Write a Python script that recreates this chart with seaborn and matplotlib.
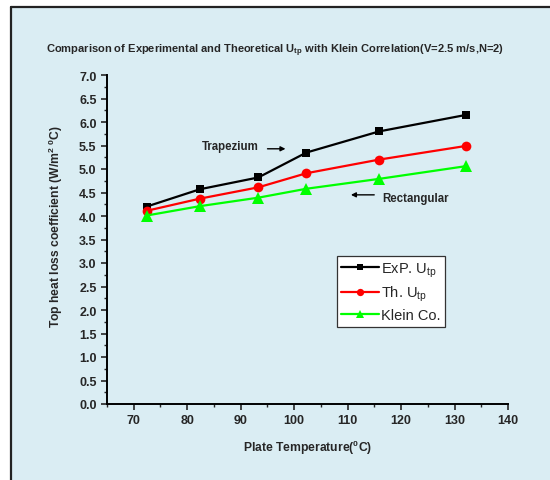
import matplotlib
matplotlib.use("Agg")
import matplotlib.pyplot as plt
from matplotlib.patches import Rectangle
from matplotlib.lines import Line2D
from matplotlib.ticker import MultipleLocator
import pandas as pd
import seaborn as sns

# Plate temperatures (deg C) and top heat loss coefficients (W/m2 C)
plate_temp = [72.4, 82.4, 93.3, 102.3, 115.9, 132.1]
exp_utp = [4.20, 4.57, 4.82, 5.35, 5.80, 6.15]
th_utp = [4.11, 4.37, 4.61, 4.91, 5.20, 5.49]
klein = [4.01, 4.21, 4.39, 4.58, 4.79, 5.06]

series_names = ["ExP. U$_{tp}$", "Th. U$_{tp}$", "Klein Co."]
x_ticks = [70, 80, 90, 100, 110, 120, 130, 140]
y_ticks = [0.0, 0.5, 1.0, 1.5, 2.0, 2.5, 3.0, 3.5, 4.0, 4.5, 5.0, 5.5, 6.0, 6.5, 7.0]

df = pd.DataFrame({
    "T": plate_temp * 3,
    "U": exp_utp + th_utp + klein,
    "series": [series_names[0]] * 6 + [series_names[1]] * 6 + [series_names[2]] * 6,
})

sns.set_style("ticks")
plt.rcParams["font.family"] = ["Liberation Sans", "DejaVu Sans"]
plt.rcParams["mathtext.default"] = "regular"

bg = "#DAEDF3"
fig = plt.figure(figsize=(5.5, 4.81), dpi=100, facecolor="white")

# Panel background with a dark frame on the left and top
fig.patches.append(Rectangle((11 / 550, 0), 1.0, 1 - 8 / 481, transform=fig.transFigure,
                             facecolor=bg, edgecolor="none", zorder=-10))
fig.lines.append(Line2D([11 / 550, 11 / 550], [0, 1 - 8 / 481], transform=fig.transFigure,
                        color="#222222", lw=1.6, zorder=-9))
fig.lines.append(Line2D([11 / 550, 1.0], [1 - 8 / 481, 1 - 8 / 481], transform=fig.transFigure,
                        color="#222222", lw=1.6, zorder=-9))

ax = fig.add_axes([107 / 550, (481 - 405) / 481, (508 - 107) / 550, (405 - 76) / 481])
ax.set_facecolor("none")
ax.set_zorder(5)

palette = {series_names[0]: "black", series_names[1]: "#FF0000", series_names[2]: "#00FF00"}
markers = {series_names[0]: "s", series_names[1]: "o", series_names[2]: "^"}
sns.lineplot(data=df, x="T", y="U", hue="series", style="series", palette=palette,
             markers=markers, dashes=False, markersize=6.3, linewidth=1.6,
             markeredgewidth=0, ax=ax, legend=False)

# Per-series marker sizes on the plotted curves
marker_sizes = [6.0, 7.0, 8.0]
for line, ms in zip(ax.lines, marker_sizes):
    line.set_markersize(ms)

ax.set_xlim(65, 140)
ax.set_ylim(0, 7.0)
ax.set_xticks(x_ticks)
ax.set_yticks(y_ticks)
ax.set_yticklabels([f"{v:.1f}" for v in y_ticks])
ax.xaxis.set_minor_locator(MultipleLocator(5))
ax.yaxis.set_minor_locator(MultipleLocator(0.25))
ax.tick_params(axis="both", which="major", direction="out", length=4, width=1.2, labelsize=9)
ax.tick_params(axis="both", which="minor", direction="out", length=2.5, width=1.0)
for lbl in ax.get_xticklabels() + ax.get_yticklabels():
    lbl.set_fontweight("bold")
for side in ("top", "right"):
    ax.spines[side].set_visible(False)
for side in ("left", "bottom"):
    ax.spines[side].set_linewidth(1.4)
    ax.spines[side].set_color("black")

ax.set_xlabel("Plate Temperature($^0$C)", fontsize=8.7, fontweight="bold", labelpad=8)
ax.set_ylabel("Top heat loss coefficient (W/m$^2$ $^0$C)", fontsize=8.7, fontweight="bold")
ax.yaxis.set_label_coords(-0.105, (405 - 226) / 329)
fig.text(275 / 550, 1 - 51 / 481,
         "Comparison of Experimental and Theoretical U$_{tp}$ with Klein Correlation(V=2.5 m/s,N=2)",
         ha="center", va="center", fontsize=8, fontweight="bold")

# Geometry labels with arrows
ax.annotate("", xy=(98.9, 5.43), xytext=(94.5, 5.43),
            arrowprops=dict(arrowstyle="-|>", color="black", lw=1.0, mutation_scale=7))
ax.text(93.4, 5.49, "Trapezium", ha="right", va="center", fontsize=8.3, fontweight="bold")
ax.annotate("", xy=(110.1, 4.45), xytext=(115.5, 4.45),
            arrowprops=dict(arrowstyle="-|>", color="black", lw=1.0, mutation_scale=7))
ax.text(116.4, 4.38, "Rectangular", ha="left", va="center", fontsize=8.3, fontweight="bold")

# Legend handles: line with a small marker in the middle
handles = [Line2D([0], [0], color=palette[n], marker=markers[n], lw=1.6, markersize=ms * 0.75,
                  markeredgewidth=0) for n, ms in zip(series_names, marker_sizes)]
leg = ax.legend(handles, series_names, loc="upper left",
                bbox_to_anchor=((337 - 107) / 401, (405 - 257) / 329),
                borderaxespad=0, frameon=True, fancybox=False, edgecolor="#333333",
                facecolor="white", framealpha=1, fontsize=10.5, handlelength=2.6,
                handletextpad=0.1, labelspacing=0.35, borderpad=0.3)
leg.get_frame().set_linewidth(0.9)

fig.savefig("out.png", dpi=100, facecolor="white")
